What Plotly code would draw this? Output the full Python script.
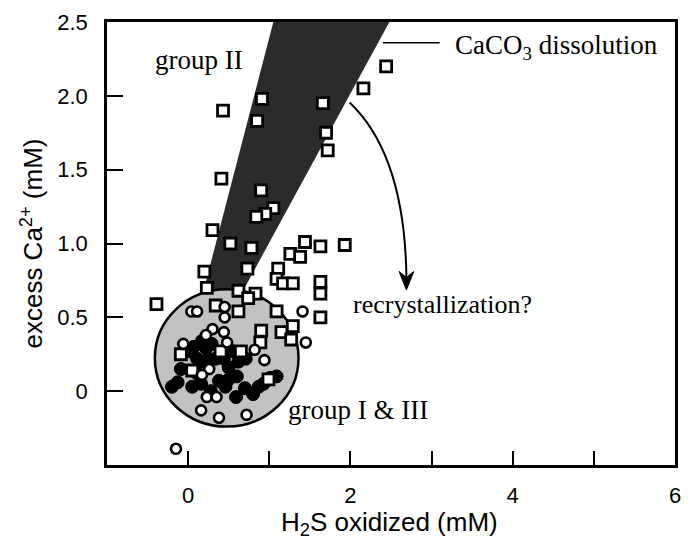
import plotly.graph_objects as go

# ---- data ----
sq_x = [2.44, 2.16, 0.43, 0.91, 1.66, 0.85, 1.70, 1.72, 0.41, 0.90, 1.05, 0.95, 0.84,
        0.30, 0.78, 0.52, 1.44, 1.63, 1.93, 1.26, 1.38, 1.11, 1.09, 1.17, 1.29, 1.63,
        1.63, 0.73, 0.20, -0.39, 0.62, 1.09, 1.63, 0.90, 1.15, 1.29, 1.27, 0.62, 0.23,
        0.83, 0.74, 0.34, -0.09, 0.65, 0.99, 0.05, 0.40, 0.89]
sq_y = [2.20, 2.05, 1.90, 1.98, 1.95, 1.83, 1.75, 1.63, 1.44, 1.36, 1.24, 1.20, 1.18,
        1.09, 0.97, 1.00, 1.01, 0.98, 0.99, 0.93, 0.91, 0.83, 0.76, 0.73, 0.73, 0.74,
        0.66, 0.83, 0.81, 0.59, 0.68, 0.54, 0.50, 0.41, 0.40, 0.44, 0.35, 0.54, 0.70,
        0.66, 0.63, 0.58, 0.25, 0.27, 0.08, 0.14, 0.27, 0.33]

oc_x = [0.04, 0.11, 0.45, 0.45, 0.30, 0.44, 0.22, 0.48, -0.06, 0.82, 0.94, 0.26, 0.17,
        0.23, 0.35, 0.16, 0.38, 0.72, 1.45, 1.41, -0.15]
oc_y = [0.54, 0.54, 0.57, 0.50, 0.42, 0.40, 0.38, 0.33, 0.32, 0.28, 0.21, 0.15, 0.11,
        -0.04, -0.04, -0.13, -0.18, -0.16, 0.33, 0.54, -0.39]

fc_x = [-0.20, -0.09, 0.01, 0.11, 0.22, 0.34, 0.44, 0.62, 0.71, 0.11, 0.38, 0.46, 0.59,
        0.05, 0.87, 1.01, 0.17, 0.29, 0.50, 0.28, 0.16, -0.13, 0.93, 1.09, 0.07, 0.55,
        0.25, 0.60, 0.15, 0.50, 0.70, 0.80]
fc_y = [0.03, 0.15, 0.27, 0.22, 0.29, 0.22, 0.22, 0.20, 0.22, 0.12, 0.07, 0.03, -0.04,
        0.03, 0.03, 0.09, 0.34, 0.32, 0.16, 0.00, 0.05, 0.06, 0.05, 0.10, 0.30, 0.27,
        0.22, 0.10, 0.20, 0.08, 0.02, -0.02]

# region outlines (data units)
wedge_x = [1.05, 2.48, 0.30, 0.01]
wedge_y = [2.50, 2.50, 0.30, 0.30]
blob_box = [-0.41, -0.24, 1.36, 0.69]   # x0, y0, x1, y1

x_ticks = [0, 2, 4, 6]
x_labels = ["0", "2", "4", "6"]
x_minor = [1, 3, 5]
y_ticks = [0, 0.5, 1.0, 1.5, 2.0, 2.5]
y_labels = ["0", "0.5", "1.0", "1.5", "2.0", "2.5"]

SANS = "Liberation Sans, Arial, sans-serif"
SERIF = "Liberation Serif, Times New Roman, serif"

fig = go.Figure()

fig.add_trace(go.Scatter(x=fc_x, y=fc_y, mode="markers",
                         marker=dict(symbol="circle", size=13, color="black",
                                     line=dict(color="black", width=1)),
                         showlegend=False, hoverinfo="skip"))
fig.add_trace(go.Scatter(x=sq_x, y=sq_y, mode="markers",
                         marker=dict(symbol="square", size=11, color="white",
                                     line=dict(color="black", width=2.8)),
                         showlegend=False, hoverinfo="skip"))
fig.add_trace(go.Scatter(x=oc_x, y=oc_y, mode="markers",
                         marker=dict(symbol="circle", size=10, color="white",
                                     line=dict(color="black", width=2.6)),
                         showlegend=False, hoverinfo="skip"))

wedge_path = "M " + " L ".join(f"{a},{b}" for a, b in zip(wedge_x, wedge_y)) + " Z"
shapes = [
    dict(type="path", path=wedge_path, xref="x", yref="y", layer="below",
         fillcolor="#2b2b2b", line=dict(width=0)),
    dict(type="circle", xref="x", yref="y", layer="below",
         x0=blob_box[0], y0=blob_box[1], x1=blob_box[2], y1=blob_box[3],
         fillcolor="#c2c2c2", line=dict(color="black", width=2.5)),
    # leader line to CaCO3 label
    dict(type="line", xref="x", yref="y", x0=2.40, y0=2.36, x1=3.10, y1=2.36,
         line=dict(color="black", width=1.5)),
    # curved arrow body
    dict(type="path", xref="x", yref="y",
         path="M 1.99,1.955 Q 2.67,1.60 2.69,0.77",
         line=dict(color="black", width=2)),
    # arrow head
    dict(type="path", xref="x", yref="y",
         path="M 2.60,0.81 L 2.69,0.685 L 2.78,0.81 L 2.69,0.77 Z",
         fillcolor="black", line=dict(color="black", width=1)),
]

annotations = [
    dict(x=0.13, y=2.24, xref="x", yref="y", text="group II", showarrow=False,
         font=dict(family=SERIF, size=27, color="black")),
    dict(x=3.26, y=2.33, xref="x", yref="y", xanchor="left",
         text="CaCO<sub>3</sub> dissolution", showarrow=False,
         font=dict(family=SERIF, size=27, color="black")),
    dict(x=3.13, y=0.59, xref="x", yref="y", text="recrystallization?", showarrow=False,
         font=dict(family=SERIF, size=26, color="black")),
    dict(x=2.09, y=-0.13, xref="x", yref="y", text="group I &amp; III", showarrow=False,
         font=dict(family=SERIF, size=27, color="black")),
    dict(x=0.497, y=-0.132, xref="paper", yref="paper", xanchor="center", yanchor="middle",
         text="H<sub>2</sub>S oxidized (mM)",
         showarrow=False, font=dict(family=SANS, size=26, color="black")),
    dict(x=-0.132, y=0.5, xref="paper", yref="paper", xanchor="center", yanchor="middle",
         text="excess Ca<sup>2+</sup> (mM)",
         textangle=-90, showarrow=False, font=dict(family=SANS, size=26, color="black")),
]

fig.update_layout(
    width=691, height=542,
    margin=dict(l=107, r=10, t=19, b=77),
    paper_bgcolor="white", plot_bgcolor="white",
    shapes=shapes, annotations=annotations,
    xaxis=dict(range=[-1, 6], tickvals=x_ticks, ticktext=x_labels,
               ticks="inside", ticklen=14, tickwidth=2, tickcolor="black",
               minor=dict(tickvals=x_minor, ticks="inside", ticklen=14, tickwidth=2,
                          tickcolor="black", showgrid=False),
               showline=True, linecolor="black", linewidth=2.5, mirror=True,
               showgrid=False, zeroline=False, ticklabelstandoff=9,
               tickfont=dict(family=SANS, size=22, color="black")),
    yaxis=dict(range=[-0.5, 2.5], tickvals=y_ticks, ticktext=y_labels,
               ticks="inside", ticklen=16, tickwidth=2, tickcolor="black",
               showline=True, linecolor="black", linewidth=2.5, mirror=True,
               showgrid=False, zeroline=False, ticklabelstandoff=12,
               tickfont=dict(family=SANS, size=22, color="black")),
)

fig.write_html("out.html")
